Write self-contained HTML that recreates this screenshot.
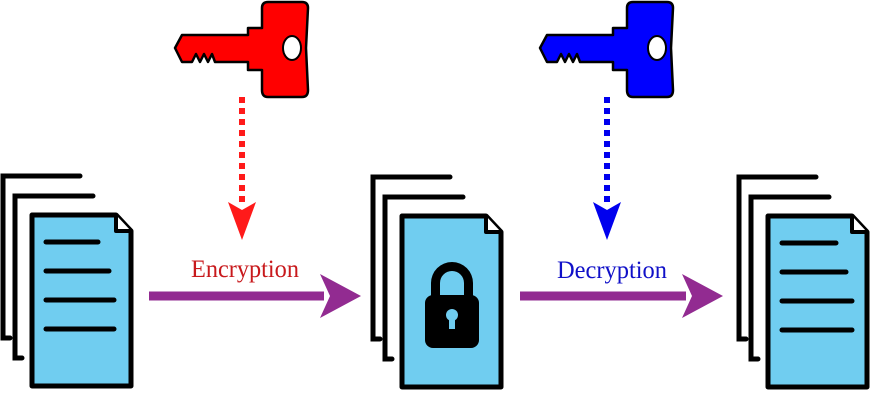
<!DOCTYPE html>
<html><head><style>
html,body{margin:0;padding:0;background:#fff;}
svg{display:block}
</style></head><body>
<svg width="870" height="400" viewBox="0 0 870 400" xmlns="http://www.w3.org/2000/svg">
<defs>
<g id="key">
<path d="M182,35 L248,35 L248,28 L262,28 L262,8 Q262,2 268,2 L302,2 Q308,2 308,8 L306,48 L308,90 Q308,97 302,97 L268,97 Q262,97 262,90 L262,70 L248,70 L248,62 L215,62 L212,54 L208,62 L204,54 L200,62 L196,54 L192,62 L182,62 L175,48 Z" stroke="#000" stroke-width="2.5" stroke-linejoin="round"/>
<ellipse cx="292" cy="48" rx="9" ry="12" fill="#fff" stroke="#000" stroke-width="2"/>
</g>
<g id="stack">
<path d="M80,176 L3,176 L3,338 L10,338" fill="none" stroke="#000" stroke-width="5" stroke-linecap="round"/>
<path d="M93,196 L15,196 L15,358 L22,358" fill="none" stroke="#000" stroke-width="5" stroke-linecap="round"/>
<path d="M32,215 L116,215 L131,231 L131,386 L32,386 Z" fill="#70cdf0" stroke="#000" stroke-width="5" stroke-linejoin="round"/>
<path d="M116,215 L116,231 L131,231" fill="#fff" stroke="#000" stroke-width="4" stroke-linejoin="round"/>
</g>
</defs>

<use href="#stack"/>
<g stroke="#000" stroke-width="5" stroke-linecap="round">
<line x1="46" y1="242" x2="98" y2="242"/>
<line x1="46" y1="271" x2="109" y2="271"/>
<line x1="46" y1="300" x2="114" y2="300"/>
<line x1="46" y1="329" x2="114" y2="329"/>
</g>

<use href="#stack" transform="translate(370,1)"/>
<g fill="#000">
<path d="M431,296 L431,283 A21,21 0 0 1 473,283 L473,296 L464,296 L464,283 A12,12 0 0 0 440,283 L440,296 Z"/>
<rect x="425" y="295" width="54" height="53" rx="8"/>
</g>
<circle cx="452" cy="315" r="6" fill="#70cdf0"/>
<rect x="449" y="315" width="6" height="14" fill="#70cdf0"/>

<use href="#stack" transform="translate(736,1)"/>
<g stroke="#000" stroke-width="5" stroke-linecap="round">
<line x1="782" y1="243" x2="836" y2="243"/>
<line x1="782" y1="272" x2="846" y2="272"/>
<line x1="782" y1="301" x2="852" y2="301"/>
<line x1="782" y1="330" x2="852" y2="330"/>
</g>

<use href="#key" fill="#ff0000"/>
<use href="#key" fill="#0000ff" transform="translate(365,0)"/>

<line x1="242" y1="97" x2="242" y2="206" stroke="#ff1a1a" stroke-width="6" stroke-dasharray="6,5"/>
<path d="M228,202 L242,210 L256,202 L242,240 Z" fill="#ff1a1a"/>
<line x1="607" y1="97" x2="607" y2="206" stroke="#0000ee" stroke-width="6" stroke-dasharray="6,5"/>
<path d="M593,202 L607,210 L621,202 L607,240 Z" fill="#0000ee"/>

<rect x="149" y="291.5" width="175" height="9" fill="#922b91"/>
<path d="M320,274 L361,296 L320,318 L330,296 Z" fill="#922b91"/>
<rect x="520" y="291.5" width="166" height="9" fill="#922b91"/>
<path d="M682,274 L723,296 L682,318 L692,296 Z" fill="#922b91"/>

<text x="245" y="277" text-anchor="middle" font-family="Liberation Serif, serif" font-size="25" fill="#c8191c" textLength="108" lengthAdjust="spacingAndGlyphs">Encryption</text>
<text x="612" y="278" text-anchor="middle" font-family="Liberation Serif, serif" font-size="25" fill="#1010c8" textLength="110" lengthAdjust="spacingAndGlyphs">Decryption</text>
</svg>
</body></html>
